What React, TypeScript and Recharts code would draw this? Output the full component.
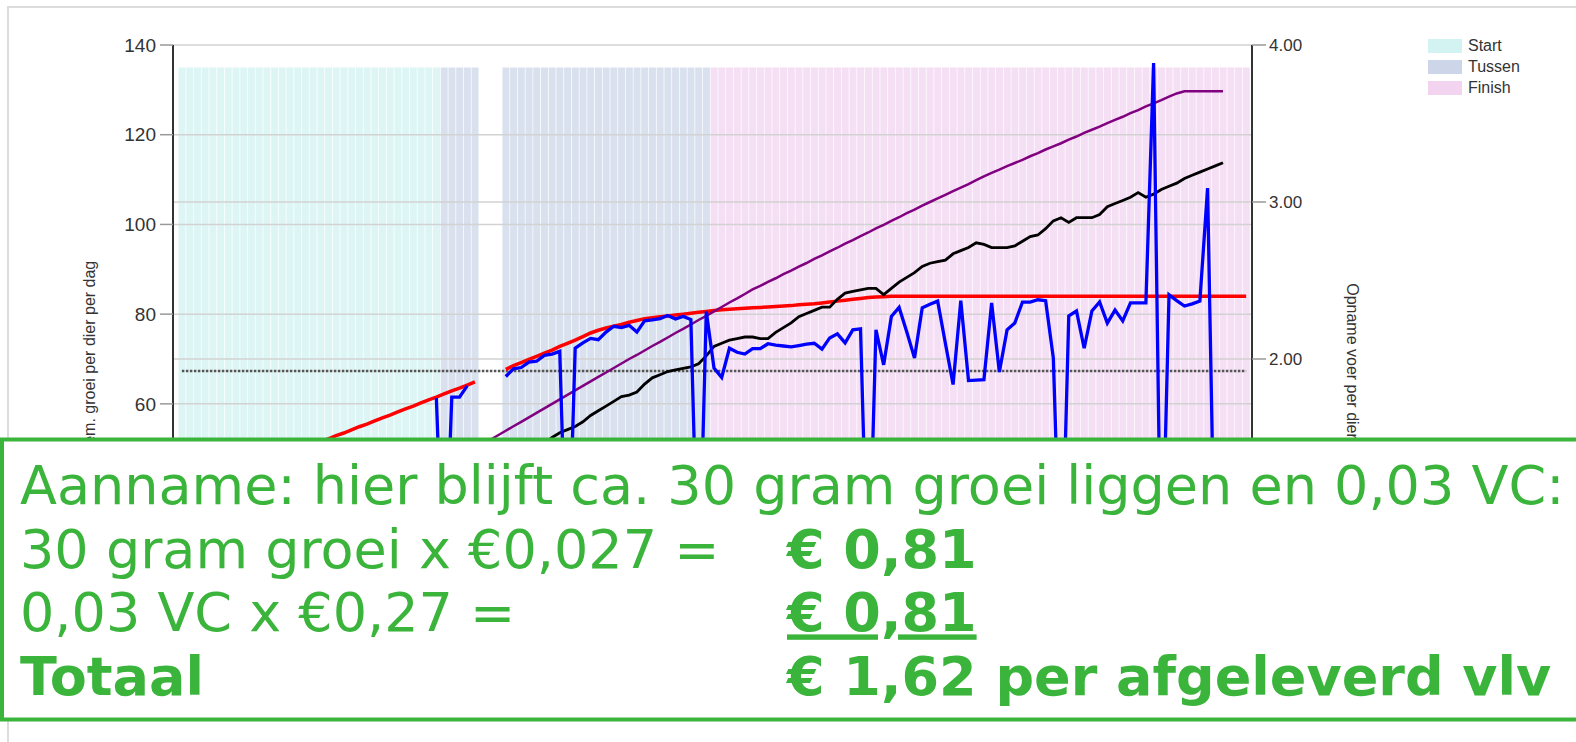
import React from 'react';
import { ComposedChart, Bar, Line, XAxis, YAxis, CartesianGrid, ReferenceLine, Cell } from 'recharts';

// ---- data ----
const dayCount = 139;
const phaseRanges = [
  { name: 'Start', from: 0, to: 33 },
  { name: 'Tussen', from: 34, to: 38 },
  { name: 'Tussen', from: 42, to: 68 },
  { name: 'Finish', from: 69, to: 138 },
];
const phaseColors: Record<string, string> = { Start: '#d2f3f1', Tussen: '#ccd6e8', Finish: '#f2d4f0' };
const legendItems = ['Start', 'Tussen', 'Finish'];
const phaseBandHeight = 135;

// tick labels that are visible above the note box
const leftTicks = [60, 80, 100, 120, 140];
const rightTicks = [2, 3, 4];
const leftGridValues = [0, 20, 40, 60, 80, 100, 120, 140];
const rightGridValues = [1, 2, 3];
const gridDays = [7, 14, 19, 21, 28, 35, 39, 42, 49, 56, 59, 63, 70, 77, 79, 84, 91, 98, 105, 112, 119, 126, 133];
const referenceLevel = 67.3;

// red: norm groei (left axis)
const redFirstDay = 0;
const redA = [39.5, 40.2, 40.8, 41.5, 42.2, 42.8, 43.5, 44.2, 44.8, 45.5, 46.2, 46.8, 47.5, 48.2, 48.9, 49.5, 50.2, 50.9, 51.5, 52.2,
  52.9, 53.5, 54.2, 54.9, 55.5, 56.2, 56.9, 57.5, 58.2, 58.9, 59.5, 60.2, 60.9, 61.5, 62.2, 62.9, 63.5, 64.2, 64.9];
const redSecondDay = 42;
const redB = [67.7, 68.5, 69.2, 69.9, 70.6, 71.3, 72.0, 72.8, 73.5, 74.2, 75.0, 75.8, 76.4, 76.9, 77.3, 77.7, 78.2, 78.6, 79.0,
  79.2, 79.4, 79.6, 79.8, 80.0, 80.2, 80.4, 80.6, 80.8, 81.0, 81.1, 81.2, 81.3, 81.4, 81.5, 81.6, 81.7, 81.8, 81.9, 82.1,
  82.2, 82.3, 82.5, 82.7, 82.9, 83.1, 83.3, 83.5, 83.7, 83.8, 83.9, 84.0,
  84.0, 84.0, 84.0, 84.0, 84.0, 84.0, 84.0, 84.0, 84.0, 84.0, 84.0, 84.0, 84.0, 84.0, 84.0, 84.0, 84.0, 84.0, 84.0, 84.0,
  84.0, 84.0, 84.0, 84.0, 84.0, 84.0, 84.0, 84.0, 84.0, 84.0, 84.0, 84.0, 84.0, 84.0, 84.0, 84.0, 84.0, 84.0, 84.0, 84.0,
  84.0, 84.0, 84.0, 84.0, 84.0, 84.0];

// blue: gerealiseerde groei (left axis)
const blueFirstDay = 33;
const blueA = [61.3, 15, 61.5, 61.5, 64.0];
const blueSecondDay = 42;
const blueB = [66.1, 67.8, 68.1, 69.3, 69.5, 70.8, 71.1, 71.7, 15, 72.4,
  73.6, 74.6, 74.3, 76.0, 77.3, 77.0, 77.5, 76.0, 78.5, 78.7,
  79.0, 79.7, 78.9, 79.5, 78.8, 15, 80.6, 68.0, 65.9, 72.4,
  71.5, 71.1, 72.3, 72.3, 73.4, 73.1, 72.9, 72.7, 73.0, 73.3,
  73.5, 72.2, 74.7, 75.6, 73.6, 76.5, 76.7, 15, 76.5, 68.7,
  79.5, 81.5, 76.0, 70.2, 81.4, 82.2, 82.9, 73.5, 64.3, 83.0,
  65.2, 65.3, 65.4, 82.5, 67.1, 76.5, 78.0, 82.7, 82.7, 83.2,
  83.0, 70.2, 15, 79.6, 80.7, 72.4, 80.7, 82.7, 78.0, 80.9,
  78.5, 82.5, 82.5, 82.5, 136, 15, 84.3, 83.0, 81.8, 82.3,
  82.9, 108.1, 15];

// purple (left axis)
const purpleFirstDay = 0;
const purple = [11.0, 12.0, 13.1, 14.1, 15.1, 16.1, 17.2, 18.2, 19.2, 20.2,
  21.3, 22.3, 23.3, 24.3, 25.4, 26.4, 27.4, 28.4, 29.5, 30.5,
  31.5, 32.5, 33.6, 34.6, 35.6, 36.6, 37.7, 38.7, 39.7, 40.7,
  41.8, 42.8, 43.8, 44.8, 45.9, 46.9, 47.9, 48.9, 50.0, 51.0,
  52.0, 53.0, 54.0, 55.0, 56.0, 57.0, 58.0, 59.0, 60.0, 61.0,
  62.0, 63.0, 64.0, 65.0, 66.0, 67.0, 68.0, 69.0, 70.0, 70.9,
  71.9, 72.9, 73.8, 74.8, 75.8, 76.7, 77.7, 78.7, 79.6, 80.6,
  81.6, 82.6, 83.5, 84.5, 85.5, 86.3, 87.2, 88.0, 88.9, 89.7,
  90.6, 91.4, 92.3, 93.1, 94.0, 94.8, 95.7, 96.5, 97.4, 98.2,
  99.1, 99.9, 100.8, 101.6, 102.5, 103.3, 104.2, 105.0, 105.8, 106.6,
  107.4, 108.2, 109.0, 109.9, 110.7, 111.5, 112.2, 113.0, 113.7, 114.4,
  115.2, 115.9, 116.7, 117.4, 118.1, 118.9, 119.6, 120.4, 121.1, 121.8,
  122.6, 123.3, 124.0, 124.8, 125.5, 126.3, 127.0, 127.7, 128.5, 129.2,
  129.7, 129.7, 129.7, 129.7, 129.7, 129.7];

// black: opname voer (right axis)
const blackFirstDay = 42;
const black = [1.20, 1.26, 1.31, 1.36, 1.41, 1.46, 1.50, 1.53, 1.55, 1.57,
  1.60, 1.64, 1.67, 1.70, 1.73, 1.76, 1.77, 1.79, 1.84, 1.88,
  1.90, 1.92, 1.93, 1.94, 1.95, 1.97, 2.02, 2.08, 2.10, 2.12,
  2.13, 2.14, 2.14, 2.13, 2.13, 2.17, 2.20, 2.23, 2.27, 2.29,
  2.31, 2.33, 2.33, 2.38, 2.42, 2.43, 2.44, 2.45, 2.45, 2.41,
  2.45, 2.49, 2.52, 2.55, 2.59, 2.61, 2.62, 2.63, 2.67, 2.69,
  2.71, 2.74, 2.73, 2.71, 2.71, 2.71, 2.72, 2.75, 2.78, 2.79,
  2.83, 2.88, 2.90, 2.87, 2.90, 2.90, 2.90, 2.92, 2.97, 2.99,
  3.01, 3.03, 3.06, 3.03, 3.05, 3.08, 3.10, 3.12, 3.15, 3.17,
  3.19, 3.21, 3.23, 3.25];

const leftTitle = 'Gem. groei per dier per dag';
const rightTitle = 'Opname voer per dier';

const noteLines = [
  { left: 'Aanname: hier blijft ca. 30 gram groei liggen en 0,03 VC:', right: '', bold: false, underline: false },
  { left: '30 gram groei x €0,027 =', right: '€ 0,81', bold: false, underline: false },
  { left: '0,03 VC x €0,27 =', right: '€ 0,81', bold: false, underline: true },
  { left: 'Totaal', right: '€ 1,62 per afgeleverd vlv', bold: true, underline: false },
];

// ---- build table ----
const pick = (arr: number[], first: number, d: number) => {
  const i = d - first;
  return i >= 0 && i < arr.length ? arr[i] : null;
};
const phaseOf = (d: number) => {
  const p = phaseRanges.find(r => d >= r.from && d <= r.to);
  return p ? p.name : null;
};
const data = Array.from({ length: dayCount }, (_, d) => {
  const ph = phaseOf(d);
  return {
    day: d,
    phase: ph,
    band: ph ? phaseBandHeight : null,
    red: pick(redA, redFirstDay, d) ?? pick(redB, redSecondDay, d),
    blue: pick(blueA, blueFirstDay, d) ?? pick(blueB, blueSecondDay, d),
    purple: pick(purple, purpleFirstDay, d),
    black: pick(black, blackFirstDay, d),
  };
});

const GREEN = '#3ab43a';
const GRID = '#d2d2d2';
const leftTickStyle = { fontSize: 19, fill: '#333', fontFamily: '"Liberation Sans", Arial, sans-serif' };
const rightTickStyle = { fontSize: 17, fill: '#333', fontFamily: '"Liberation Sans", Arial, sans-serif' };

export default function App() {
  return (
    <div style={{ position: 'absolute', left: 0, top: 0, width: 1576, height: 742, overflow: 'hidden', background: '#fff', fontFamily: '"Liberation Sans", Arial, sans-serif' }}>
      <div style={{ position: 'absolute', left: 7, top: 6, width: 1640, height: 900, border: '2px solid #dcdcdc', boxSizing: 'border-box' }} />
      <div style={{ position: 'absolute', left: 0, top: 0 }}>
        <ComposedChart width={1576} height={742} data={data} margin={{ top: 45, right: 254, bottom: 69, left: 103 }} barCategoryGap={0.5}>
          <CartesianGrid yAxisId="left" stroke={GRID} strokeWidth={1.5} horizontal={false} />
          <XAxis dataKey="day" type="category" ticks={gridDays} interval={0} tick={false} tickLine={false} axisLine={false} height={0} padding={{ left: 5, right: 2 }} />
          <YAxis yAxisId="left" domain={[0, 140]} ticks={leftTicks} interval={0} width={70} tickSize={13} tickMargin={4}
            tick={leftTickStyle} axisLine={{ stroke: '#333', strokeWidth: 2 }} tickLine={{ stroke: '#999', strokeWidth: 1.5 }} />
          <YAxis yAxisId="right" orientation="right" domain={[0, 4]} ticks={rightTicks} interval={0} width={70} tickSize={14} tickMargin={3}
            tickFormatter={(v: number) => v.toFixed(2)}
            tick={rightTickStyle} axisLine={{ stroke: '#333', strokeWidth: 2 }} tickLine={{ stroke: '#999', strokeWidth: 1.5 }} />
          {leftGridValues.map(v => (
            <ReferenceLine key={'l' + v} yAxisId="left" y={v} stroke={GRID} strokeWidth={1.5} />
          ))}
          {rightGridValues.map(v => (
            <ReferenceLine key={'r' + v} yAxisId="right" y={v} stroke={GRID} strokeWidth={1.5} />
          ))}
          <Bar yAxisId="left" dataKey="band" isAnimationActive={false} fillOpacity={0.75}>
            {data.map(d => (
              <Cell key={d.day} fill={d.phase ? phaseColors[d.phase] : 'none'} />
            ))}
          </Bar>
          <ReferenceLine yAxisId="left" segment={[{ x: 0, y: referenceLevel }, { x: dayCount - 1, y: referenceLevel }]}
            stroke="#555" strokeWidth={2.5} strokeDasharray="2.5 1.5" />
          <Line yAxisId="left" dataKey="red" stroke="#ff0000" strokeWidth={3.5} dot={false} isAnimationActive={false} />
          <Line yAxisId="right" dataKey="black" stroke="#000" strokeWidth={2.8} dot={false} isAnimationActive={false} />
          <Line yAxisId="left" dataKey="purple" stroke="#800080" strokeWidth={2.5} dot={false} isAnimationActive={false} />
          <Line yAxisId="left" dataKey="blue" stroke="#0000ff" strokeWidth={3.3} dot={false} isAnimationActive={false} />
        </ComposedChart>
      </div>

      <div style={{ position: 'absolute', left: 90, top: 359, transform: 'translate(-50%, -50%) rotate(-90deg)', whiteSpace: 'nowrap', fontSize: 16, color: '#333' }}>{leftTitle}</div>
      <div style={{ position: 'absolute', left: 1352, top: 361, transform: 'translate(-50%, -50%) rotate(90deg)', whiteSpace: 'nowrap', fontSize: 16, color: '#333' }}>{rightTitle}</div>

      {legendItems.map((name, i) => (
        <div key={name} style={{ position: 'absolute', left: 1428, top: 39 + i * 21, height: 14, display: 'flex', alignItems: 'center' }}>
          <div style={{ width: 34, height: 14, background: phaseColors[name] }} />
          <div style={{ marginLeft: 6, fontSize: 16, color: '#333', whiteSpace: 'nowrap' }}>{name}</div>
        </div>
      ))}

      <svg style={{ position: 'absolute', left: 0, top: 0 }} width={1576} height={742}>
        <rect x={2} y={439.5} width={1640} height={280} fill="#fff" stroke={GREEN} strokeWidth={4} />
        {noteLines.map((l, i) => (
          <g key={i} fill={GREEN} fontFamily='"DejaVu Sans", sans-serif' fontSize={54}>
            <text x={20} y={504 + i * 63.7} fontWeight={l.bold ? 'bold' : 'normal'}>{l.left}</text>
            {l.right ? (
              <text x={787} y={504 + i * 63.7} fontWeight="bold"
                style={{ textDecoration: l.underline ? 'underline' : 'none', textDecorationSkipInk: 'none', textDecorationThickness: 4 } as React.CSSProperties}>{l.right}</text>
            ) : null}
          </g>
        ))}
      </svg>
    </div>
  );
}
